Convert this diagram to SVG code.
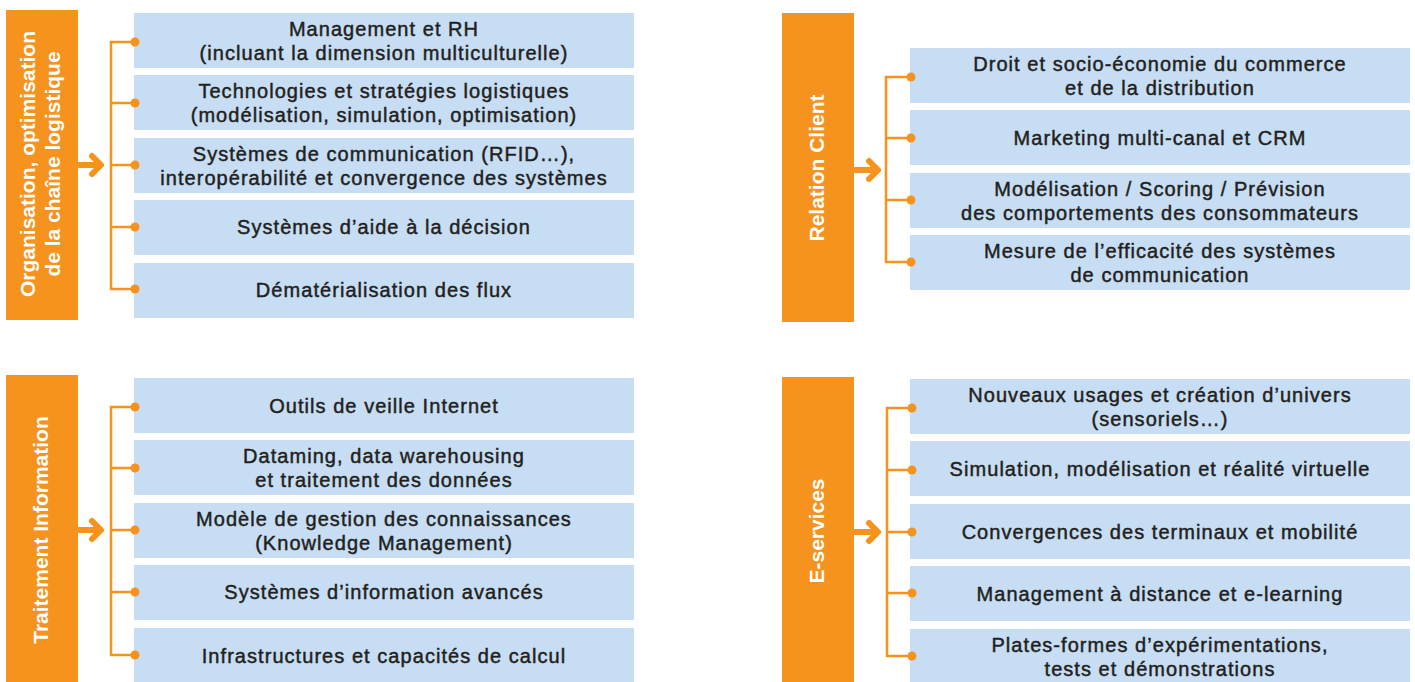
<svg xmlns="http://www.w3.org/2000/svg" width="1415" height="682" viewBox="0 0 1415 682">
<style>
.bar{fill:#F6921E}
.box{fill:#C6DDF3}
.lbl{font-family:"Liberation Sans",Arial,sans-serif;font-weight:bold;font-size:21px;fill:#ffffff;text-anchor:middle}
.t{font-family:"Liberation Sans",Arial,sans-serif;font-size:20px;fill:#231f20;stroke:#231f20;stroke-width:0.45;letter-spacing:1.05px;text-anchor:middle}
.br{fill:none;stroke:#F6921E;stroke-width:2.5}
.arr{fill:none;stroke:#F6921E;stroke-width:6;stroke-linecap:round;stroke-linejoin:round}
.dot{fill:#F6921E}
</style>
<rect width="1415" height="682" fill="#ffffff"/>

<g id="orga">
  <rect class="bar" x="6" y="10" width="72" height="310"/>
  <text class="lbl" transform="translate(35,164) rotate(-90)">Organisation, optimisation</text>
  <text class="lbl" transform="translate(60,164) rotate(-90)">de la chaîne logistique</text>
</g>
<g id="orga-1"><rect class="box" x="134" y="13" width="500" height="55"/><text class="t" x="384" y="36">Management et RH</text><text class="t" x="384" y="60">(incluant la dimension multiculturelle)</text></g>
<g id="orga-2"><rect class="box" x="134" y="75" width="500" height="55"/><text class="t" x="384" y="98">Technologies et stratégies logistiques</text><text class="t" x="384" y="122">(modélisation, simulation, optimisation)</text></g>
<g id="orga-3"><rect class="box" x="134" y="138" width="500" height="55"/><text class="t" x="384" y="161">Systèmes de communication (RFID…),</text><text class="t" x="384" y="185">interopérabilité et convergence des systèmes</text></g>
<g id="orga-4"><rect class="box" x="134" y="200" width="500" height="55"/><text class="t" x="384" y="234">Systèmes d’aide à la décision</text></g>
<g id="orga-5"><rect class="box" x="134" y="263" width="500" height="55"/><text class="t" x="384" y="297">Dématérialisation des flux</text></g>

<g id="client">
  <rect class="bar" x="782" y="13" width="72" height="309"/>
  <text class="lbl" transform="translate(824,168) rotate(-90)">Relation Client</text>
</g>
<g id="client-1"><rect class="box" x="910" y="48" width="500" height="55"/><text class="t" x="1160" y="71">Droit et socio-économie du commerce</text><text class="t" x="1160" y="95">et de la distribution</text></g>
<g id="client-2"><rect class="box" x="910" y="110" width="500" height="55"/><text class="t" x="1160" y="145">Marketing multi-canal et CRM</text></g>
<g id="client-3"><rect class="box" x="910" y="173" width="500" height="55"/><text class="t" x="1160" y="196">Modélisation / Scoring / Prévision</text><text class="t" x="1160" y="220">des comportements des consommateurs</text></g>
<g id="client-4"><rect class="box" x="910" y="235" width="500" height="55"/><text class="t" x="1160" y="258">Mesure de l’efficacité des systèmes</text><text class="t" x="1160" y="282">de communication</text></g>

<g id="info">
  <rect class="bar" x="6" y="375" width="72" height="307"/>
  <text class="lbl" transform="translate(48,530) rotate(-90)">Traitement Information</text>
</g>
<g id="info-1"><rect class="box" x="134" y="378" width="500" height="55"/><text class="t" x="384" y="413">Outils de veille Internet</text></g>
<g id="info-2"><rect class="box" x="134" y="440" width="500" height="55"/><text class="t" x="384" y="463">Dataming, data warehousing</text><text class="t" x="384" y="487">et traitement des données</text></g>
<g id="info-3"><rect class="box" x="134" y="503" width="500" height="55"/><text class="t" x="384" y="526">Modèle de gestion des connaissances</text><text class="t" x="384" y="550">(Knowledge Management)</text></g>
<g id="info-4"><rect class="box" x="134" y="565" width="500" height="55"/><text class="t" x="384" y="599">Systèmes d’information avancés</text></g>
<g id="info-5"><rect class="box" x="134" y="628" width="500" height="55"/><text class="t" x="384" y="663">Infrastructures et capacités de calcul</text></g>

<g id="eserv">
  <rect class="bar" x="782" y="377" width="72" height="305"/>
  <text class="lbl" transform="translate(824,531) rotate(-90)">E-services</text>
</g>
<g id="eserv-1"><rect class="box" x="910" y="379" width="500" height="55"/><text class="t" x="1160" y="402">Nouveaux usages et création d’univers</text><text class="t" x="1160" y="426">(sensoriels…)</text></g>
<g id="eserv-2"><rect class="box" x="910" y="441" width="500" height="55"/><text class="t" x="1160" y="476">Simulation, modélisation et réalité virtuelle</text></g>
<g id="eserv-3"><rect class="box" x="910" y="504" width="500" height="55"/><text class="t" x="1160" y="539">Convergences des terminaux et mobilité</text></g>
<g id="eserv-4"><rect class="box" x="910" y="566" width="500" height="55"/><text class="t" x="1160" y="601">Management à distance et e-learning</text></g>
<g id="eserv-5"><rect class="box" x="910" y="629" width="500" height="55"/><text class="t" x="1160" y="652">Plates-formes d’expérimentations,</text><text class="t" x="1160" y="676">tests et démonstrations</text></g>

<g id="connectors">
  <path class="br" d="M134,42H111V289H134M111,103H134M111,165H134M111,227H134"/>
  <path class="arr" d="M78,165H100M92,156L101,165L92,174"/>
  <path class="br" d="M910,77H886V262H910M886,138H910M886,200H910"/>
  <path class="arr" d="M854,170H876M869,161L878,170L869,179"/>
  <path class="br" d="M134,407H111V655H134M111,468H134M111,530H134M111,592H134"/>
  <path class="arr" d="M78,530H100M92,521L101,530L92,539"/>
  <path class="br" d="M911,408H887V656H911M887,470H911M887,532H911M887,593H911"/>
  <path class="arr" d="M854,532H876M869,523L878,532L869,541"/>
  <circle class="dot" cx="135" cy="42" r="4.5"/><circle class="dot" cx="135" cy="103" r="4.5"/><circle class="dot" cx="135" cy="165" r="4.5"/><circle class="dot" cx="135" cy="227" r="4.5"/><circle class="dot" cx="135" cy="289" r="4.5"/>
  <circle class="dot" cx="911" cy="77" r="4.5"/><circle class="dot" cx="911" cy="138" r="4.5"/><circle class="dot" cx="911" cy="200" r="4.5"/><circle class="dot" cx="911" cy="262" r="4.5"/>
  <circle class="dot" cx="135" cy="407" r="4.5"/><circle class="dot" cx="135" cy="468" r="4.5"/><circle class="dot" cx="135" cy="530" r="4.5"/><circle class="dot" cx="135" cy="592" r="4.5"/><circle class="dot" cx="135" cy="655" r="4.5"/>
  <circle class="dot" cx="912" cy="408" r="4.5"/><circle class="dot" cx="912" cy="470" r="4.5"/><circle class="dot" cx="912" cy="532" r="4.5"/><circle class="dot" cx="912" cy="593" r="4.5"/><circle class="dot" cx="912" cy="656" r="4.5"/>
</g>
</svg>
